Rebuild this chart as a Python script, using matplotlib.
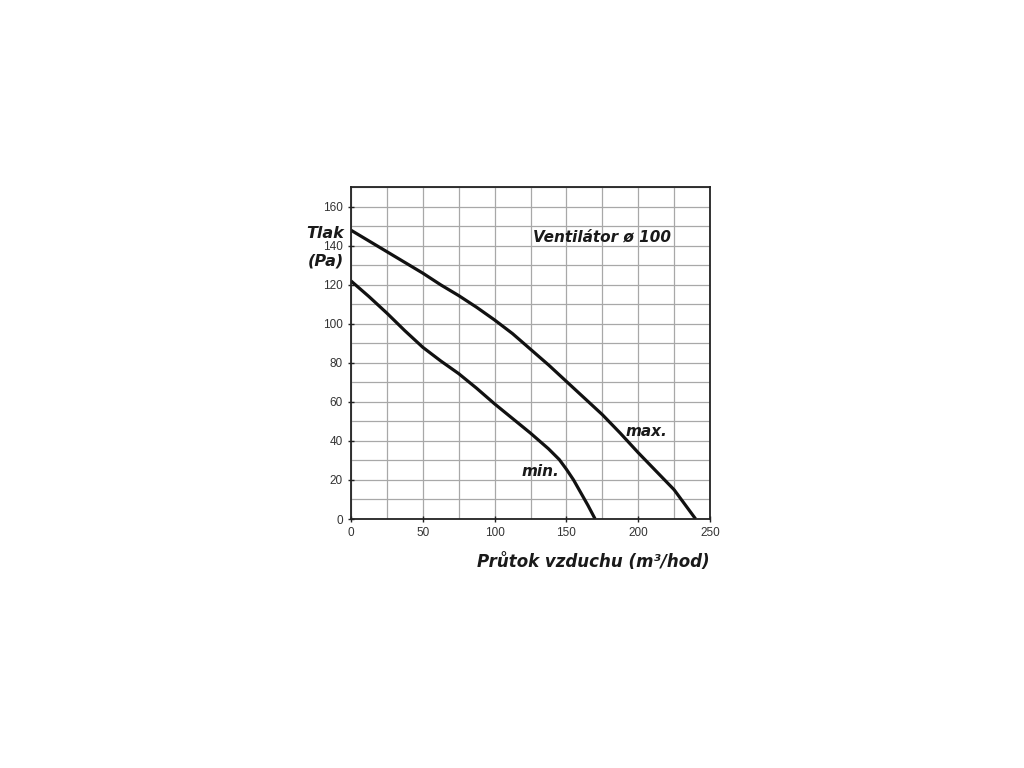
import matplotlib
matplotlib.use("Agg")
import matplotlib.pyplot as plt
import numpy as np

# Data
flow_max = [0, 12.5, 25, 37.5, 50, 62.5, 75, 87.5, 100, 112.5, 125, 137.5,
            150, 162.5, 175, 187.5, 200, 212.5, 225, 232.5, 240]
pres_max = [148, 142.5, 137, 131.5, 126, 120, 114.5, 108.5, 102, 95, 87, 79,
            70.5, 62, 53.5, 44, 34, 24.5, 15, 7.5, 0]
flow_min = [0, 12.5, 25, 37.5, 50, 62.5, 75, 87.5, 100, 112.5, 125, 137.5,
            145, 150, 155, 160, 165, 170]
pres_min = [122, 114, 105.5, 96.5, 88, 81, 74.5, 67, 59, 51.5, 44, 36,
            30.5, 25.5, 20, 13.5, 7, 0]

x_ticks = [0, 50, 100, 150, 200, 250]
y_ticks = [0, 20, 40, 60, 80, 100, 120, 140, 160]

fig = plt.figure(figsize=(10.24, 7.68), dpi=100)
ax = fig.add_axes([351/1024, 1-519/768, (710-351)/1024, (519-187.3)/768])

ax.set_xlim(0, 250)
ax.set_ylim(0, 170)
ax.set_xticks(np.arange(0, 251, 25), minor=True)
ax.set_yticks(np.arange(0, 171, 10), minor=True)
ax.set_xticks(x_ticks)
ax.set_yticks(y_ticks)
ax.grid(True, which='both', color='#a8a8a8', linewidth=0.9)
ax.set_axisbelow(True)
ax.tick_params(which='minor', length=0)
ax.tick_params(which='major', direction='inout', length=5, width=1,
               labelsize=8, labelcolor='#333333', colors='#222222')
for lab in ax.get_xticklabels() + ax.get_yticklabels():
    lab.set_family('Liberation Sans')
    lab.set_fontsize(8.5)
ax.tick_params(axis='x', pad=3)
for sp in ax.spines.values():
    sp.set_color('#222222')
    sp.set_linewidth(1.3)

ax.plot(flow_max, pres_max, color='#111111', lw=2.3, solid_capstyle='butt',
        solid_joinstyle='round')
ax.plot(flow_min, pres_min, color='#111111', lw=2.3, solid_capstyle='butt',
        solid_joinstyle='round')

tfont = dict(family='DejaVu Sans', weight='bold', style='italic', color='#1a1a1a')
ax.text(127, 144.5, 'Ventilátor ø 100', fontsize=11, ha='left', va='center', **tfont)
ax.text(191, 45, 'max.', fontsize=11, ha='left', va='center', **tfont)
ax.text(119, 24.5, 'min.', fontsize=11, ha='left', va='center', **tfont)

fig.text(344/1024, 1-233/768, 'Tlak', fontsize=11.5, ha='right', va='center', **tfont)
fig.text(344/1024, 1-261/768, '(Pa)', fontsize=11.5, ha='right', va='center', **tfont)
fig.text(710/1024, 1-562/768, 'Průtok vzduchu (m³/hod)', fontsize=12,
         ha='right', va='center', **tfont)

fig.savefig('out.png', dpi=100, facecolor='white')
